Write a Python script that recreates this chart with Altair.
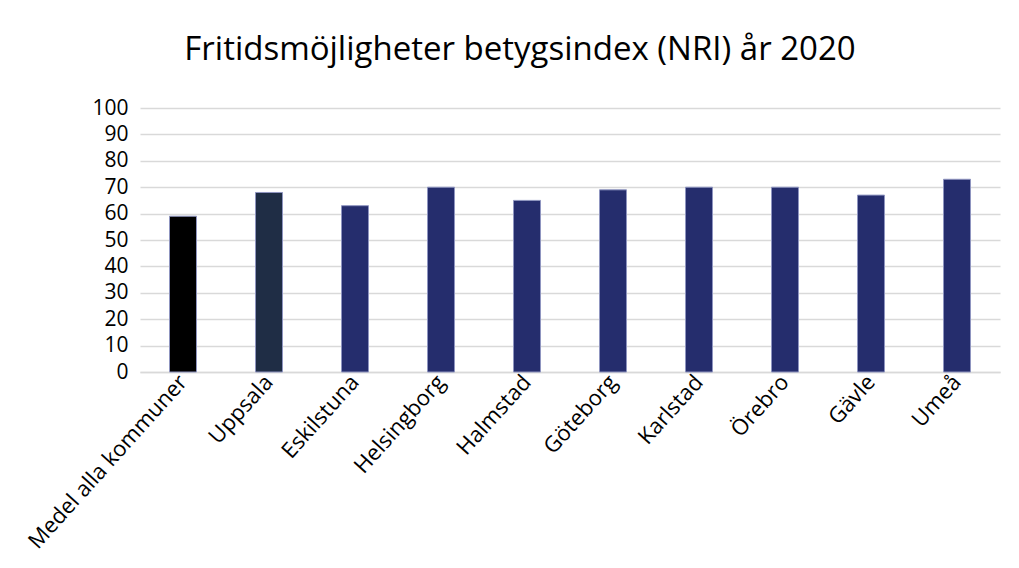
import altair as alt
import pandas as pd

categories = ["Medel alla kommuner", "Uppsala", "Eskilstuna", "Helsingborg", "Halmstad",
              "Göteborg", "Karlstad", "Örebro", "Gävle", "Umeå"]
values = [59, 68, 63, 70, 65, 69, 70, 70, 67, 73]
colors = ["#000000", "#1f2d45", "#252d6d", "#252d6d", "#252d6d",
          "#252d6d", "#252d6d", "#252d6d", "#252d6d", "#252d6d"]
y_ticks = [0, 10, 20, 30, 40, 50, 60, 70, 80, 90, 100]

df = pd.DataFrame({"kommun": categories, "index": values, "farg": colors})

font = "Open Sans"

chart = alt.Chart(df).mark_bar(size=27, strokeWidth=1).encode(
    x=alt.X("kommun:N", sort=categories, title=None,
            scale=alt.Scale(paddingInner=0.69, paddingOuter=0.345),
            axis=alt.Axis(labelAngle=-48, labelAlign="right", labelBaseline="middle",
                          labelFontSize=22, labelColor="#000000", labelFont=font,
                          ticks=False, domain=True, domainColor="#d9d9d9", domainWidth=1.5,
                          labelPadding=6, labelLimit=400)),
    y=alt.Y("index:Q", title=None,
            scale=alt.Scale(domain=[0, 100], nice=False),
            axis=alt.Axis(values=y_ticks, labelFontSize=21, labelColor="#000000", labelFont=font,
                          ticks=False, domain=False, grid=True, gridColor="#d9d9d9",
                          gridWidth=1.5, labelPadding=12)),
    color=alt.Color("farg:N", scale=None),
    stroke=alt.value("#8f95c0"),
).properties(
    width=860,
    height=264,
    padding={"left": 132, "top": 100, "right": 11, "bottom": 190},
    autosize=alt.AutoSizeParams(type="none"),
    title=alt.TitleParams("Fritidsmöjligheter betygsindex (NRI) år 2020",
                          fontSize=33, font=font, fontWeight="normal", color="#000000",
                          anchor="middle", dx=-50, offset=30),
).configure_view(stroke=None)

chart.save("out.html", embed_options={"renderer": "svg", "actions": False})
